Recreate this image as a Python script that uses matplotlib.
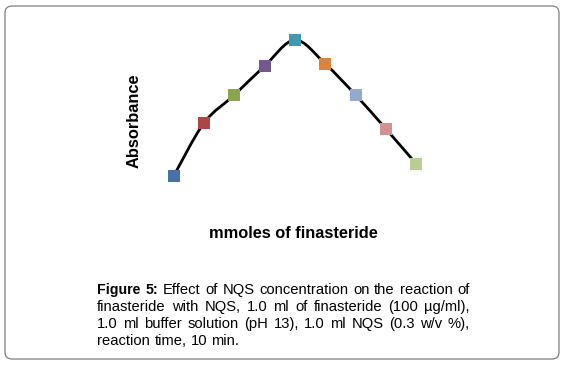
import matplotlib
matplotlib.use('Agg')
import matplotlib.pyplot as plt
from matplotlib.path import Path
from matplotlib.patches import PathPatch, FancyBboxPatch

plt.rcParams['font.family'] = ['Liberation Sans', 'DejaVu Sans']

# data (arbitrary absorbance units, no axis shown)
points = [1, 2, 3, 4, 5, 6, 7, 8, 9]
absorbance = [0.24, 0.77, 1.05, 1.34, 1.60, 1.36, 1.05, 0.71, 0.36]
marker_colors = ['#4572A7', '#AA4643', '#89A54E', '#71588F', '#4198AF',
                 '#DB843D', '#93A9CF', '#D19392', '#B9CD96']

x_label = 'mmoles of finasteride'
y_label = 'Absorbance'
caption_bold = 'Figure 5:'
caption_lines = [
    'Figure 5: Effect of NQS concentration on the reaction of',
    'finasteride with NQS, 1.0 ml of finasteride (100 \u00b5g/ml),',
    '1.0 ml buffer solution (pH 13), 1.0 ml NQS (0.3 w/v %),',
    'reaction time, 10 min.',
]

fig = plt.figure(figsize=(5.64, 3.67), dpi=100)
ax = fig.add_axes([0.2649, 0.455, 0.5163, 0.4905])
ax.set_xlim(0.2, 9.8)
ax.set_ylim(0.0, 1.8)
ax.axis('off')

# smoothed line (Excel style), bezier segments through the data points
n = len(points)
verts = [(points[0], absorbance[0])]
codes = [Path.MOVETO]
for i in range(n - 1):
    x0, y0 = points[i], absorbance[i]
    x1, y1 = points[i + 1], absorbance[i + 1]
    xp, yp = (points[i - 1], absorbance[i - 1]) if i > 0 else (x0, y0)
    xn, yn = (points[i + 2], absorbance[i + 2]) if i + 2 < n else (x1, y1)
    c1 = (x0 + (x1 - xp) / 6, y0 + (y1 - yp) / 6)
    c2 = (x1 - (xn - x0) / 6, y1 - (yn - y0) / 6)
    verts += [c1, c2, (x1, y1)]
    codes += [Path.CURVE4] * 3
ax.add_patch(PathPatch(Path(verts, codes), fill=False, edgecolor='black',
                       lw=2.0, capstyle='round', zorder=2))

for xv, yv, c in zip(points, absorbance, marker_colors):
    ax.plot(xv, yv, marker='s', markersize=8, color=c, markeredgewidth=0,
            linestyle='none', zorder=3)

fig.text(0.2376, 0.672, y_label, rotation=90, ha='center', va='center',
         fontsize=11.8, fontweight='bold')
fig.text(0.520, 0.365, x_label, ha='center', va='center',
         fontsize=11.8, fontweight='bold')

# caption, justified like the journal layout
W, H = 564, 367
left_px, right_px = 97.3, 469.5
base_px, step_px = 293.7, 17.1
fs = 10.65
n_bold = len(caption_bold.split())
renderer = fig.canvas.get_renderer()
for k, line in enumerate(caption_lines):
    words = line.split()
    texts = []
    for j, w in enumerate(words):
        bold = (k == 0 and j < n_bold)
        texts.append(fig.text(0, 1 - (base_px + k * step_px) / H, w,
                              fontsize=10.2 if bold else fs, va='baseline',
                              fontweight='bold' if bold else 'normal'))
    widths = [t.get_window_extent(renderer).width for t in texts]
    if k < len(caption_lines) - 1:
        gap = (right_px - left_px - sum(widths)) / (len(words) - 1)
    else:
        gap = fs * 100 / 72 * 0.278
    x = left_px
    for t, wd in zip(texts, widths):
        t.set_x(x / W)
        x += wd + gap

# rounded frame round the whole figure
frame = FancyBboxPatch((0.05, 0.08), 5.54, 3.53,
                       boxstyle='round,pad=0,rounding_size=0.07',
                       transform=fig.dpi_scale_trans, fill=False,
                       edgecolor='#7f7f7f', lw=0.9)
fig.patches.append(frame)

fig.savefig('out.png', dpi=100)
